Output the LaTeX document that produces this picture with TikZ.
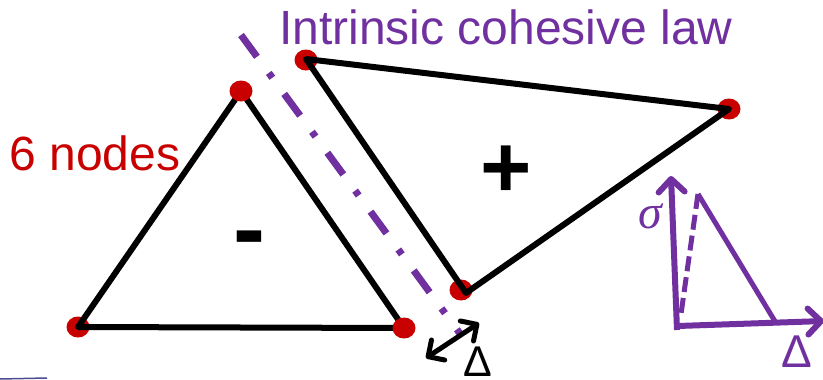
\documentclass[tikz,border=0pt]{standalone}
\usepackage{fontspec}
\setmainfont{Liberation Sans}
\newfontfamily\sigmafont{Liberation Serif}
\usetikzlibrary{arrows.meta,shapes.geometric}
\definecolor{pur}{RGB}{112,48,160}
\definecolor{rd}{RGB}{200,0,0}
\tikzset{
  x=1pt,y=-1pt,
  vertex/.style={ellipse,fill=rd,inner sep=0pt,minimum width=23pt,minimum height=21pt},
  edgeline/.style={draw=black,line width=6pt,line join=round},
  purline/.style={draw=pur,line width=6pt},
  purtext/.style={text=pur,inner sep=0pt},
  opentip/.style={-{Straight Barb[length=13pt,width=26pt,line width=6pt,round]}},
}
\begin{document}
\begin{tikzpicture}
\useasboundingbox (0,0) rectangle (823,380);
\clip (0,0) rectangle (823,380);
\coordinate (s) at (241,35);
\coordinate (e) at (461,335);
\draw[draw=pur,line width=7pt,dash pattern=on 27pt off 20pt on 6pt off 20pt] (s) -- (e);
\node[vertex] (a) at (78,327) {};
\node[vertex] (d) at (306,60) {};
\node[vertex] (f) at (729,109) {};
\node[vertex] (g) at (461,290) {};
\coordinate (bp) at (241,91);
\coordinate (cp) at (404,328);
\coordinate (d1) at (306,59);
\coordinate (g1) at (466,293);
\draw[edgeline] (a.center) -- (bp) -- (cp) -- cycle;
\draw[edgeline] (d1) -- (f.center) -- (g1) -- cycle;
\node[vertex] (b) at (bp) {};
\node[vertex] (c) at (cp) {};
\node[text=rd,inner sep=0pt,font=\fontsize{48}{48}\selectfont] (six) at (95,153) {6 nodes};
\node[purtext,font=\fontsize{48}{48}\selectfont] (title) at (506,27) {Intrinsic cohesive law};
\node[inner sep=0pt,font=\fontsize{96}{96}\selectfont\bfseries] (minus) at (249,246) {-};
\node[inner sep=0pt,font=\fontsize{88}{88}\selectfont\bfseries] (plus) at (506,172) {+};
\coordinate (da) at (426,358);
\coordinate (db) at (479,323);
\draw[draw=black,line width=5pt,{Straight Barb[length=12pt,width=24pt,line width=5pt,round]}-{Straight Barb[length=12pt,width=24pt,line width=5pt,round]}] (da) -- (db);
\node[inner sep=0pt,font=\fontsize{43}{43}\selectfont] (dl) at (478,362) {Δ};
\coordinate (o) at (677,330);
\coordinate (ys) at (671,176);
\coordinate (xs) at (824,321);
\coordinate (ox) at (678,326);
\coordinate (t) at (698,194);
\coordinate (u) at (776,323);
\coordinate (v) at (681,314);
\draw[purline,opentip] (o) -- (ys);
\draw[purline,opentip] (ox) -- (xs);
\draw[purline,line width=5pt] (t) -- (u);
\draw[purline,line width=5pt,dash pattern=on 15pt off 6pt] (t) -- (v);
\node[purtext,font=\fontsize{48}{48}\selectfont\sigmafont\itshape] (sg) at (650,216) {σ};
\node[purtext,font=\fontsize{46}{46}\selectfont] (dd) at (797,352) {Δ};
\coordinate (r1) at (0,379);
\coordinate (r2) at (47,378);
\draw[draw=blue!40!black!70,line width=1.5pt] (r1) -- (r2);
\end{tikzpicture}
\end{document}
